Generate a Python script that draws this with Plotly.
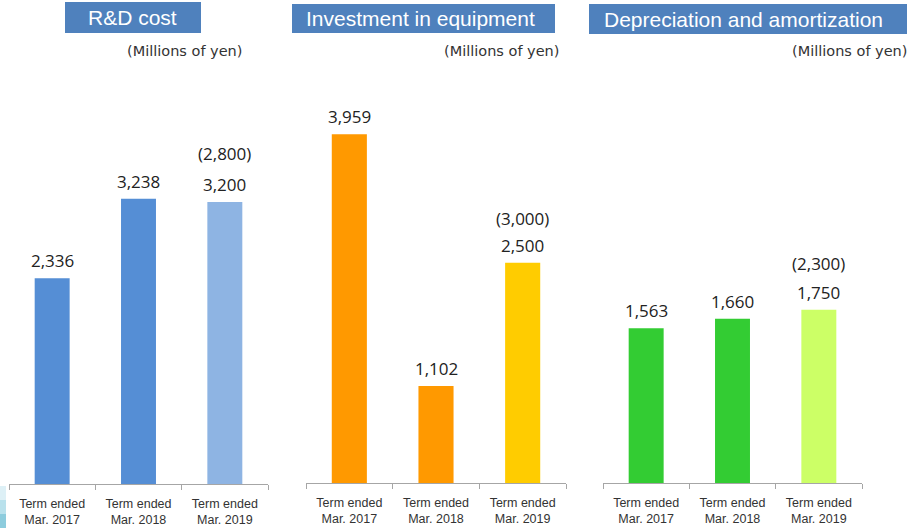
import plotly.graph_objects as go

# ---------------- data ----------------
categories = ["Term ended<br>Mar. 2017", "Term ended<br>Mar. 2018", "Term ended<br>Mar. 2019"]

rd_cost = [2336, 3238, 3200]
rd_forecast = 2800

capex = [3959, 1102, 2500]
capex_forecast = 3000

depreciation = [1563, 1660, 1750]
depreciation_forecast = 2300

titles = ["R&D cost", "Investment in equipment", "Depreciation and amortization"]
unit_label = "(Millions of yen)"

# ---------------- layout helpers ----------------
W, H = 913, 528


def fx(p):
    return p / W


def fy(p):
    return 1 - p / H


panels = [
    dict(values=rd_cost, forecast=rd_forecast, colors=["#558ED5", "#558ED5", "#8EB4E3"],
         x0=9, x1=268, base=484, scale=0.0881, fgap=31,
         box=(65, 2, 201, 33), title_x=132, unit_x=244),
    dict(values=capex, forecast=capex_forecast, colors=["#FF9900", "#FF9900", "#FFCC00"],
         x0=306, x1=566, base=483, scale=0.0881, fgap=27,
         box=(292, 4, 555, 33), title_x=420, unit_x=561),
    dict(values=depreciation, forecast=depreciation_forecast, colors=["#33CC33", "#33CC33", "#CCFF66"],
         x0=603, x1=862, base=483, scale=0.0990, fgap=29,
         box=(589, 4, 907, 34), title_x=743, unit_x=909),
]

fig = go.Figure()
shapes = []
annotations = []
layout_axes = {}

for i, p in enumerate(panels):
    n = "" if i == 0 else str(i + 1)
    xa, ya = "x" + n, "y" + n
    fig.add_trace(go.Bar(
        x=categories, y=p["values"], marker=dict(color=p["colors"], line=dict(width=0)),
        xaxis=xa, yaxis=ya, showlegend=False, hoverinfo="skip",
    ))
    layout_axes["xaxis" + n] = dict(
        domain=[fx(p["x0"]), fx(p["x1"])], anchor=ya, type="category",
        showline=True, linecolor="#A6A6A6", linewidth=1,
        ticks="outside", tickson="boundaries", ticklen=5, tickcolor="#A6A6A6",
        tickangle=0, ticklabelstandoff=8,
        tickfont=dict(family="Liberation Sans", size=12.5, color="#333333"),
        showgrid=False, zeroline=False, fixedrange=True,
    )
    layout_axes["yaxis" + n] = dict(
        domain=[fy(p["base"]), 1], anchor=xa, range=[0, p["base"] / p["scale"]],
        visible=False, fixedrange=True,
    )
    # value labels
    for c, v in zip(categories, p["values"]):
        annotations.append(dict(
            xref=xa, yref=ya, x=c, y=v, text=f"{v:,}", showarrow=False,
            yanchor="middle", yshift=17.5,
            font=dict(family="Open Sans", size=17, color="#222222"),
        ))
    annotations.append(dict(
        xref=xa, yref=ya, x=categories[-1], y=p["values"][-1], text=f"({p['forecast']:,})",
        showarrow=False, yanchor="middle", yshift=17.5 + p["fgap"],
        font=dict(family="Open Sans", size=17, color="#222222"),
    ))
    # title box
    bx0, by0, bx1, by1 = p["box"]
    shapes.append(dict(type="rect", xref="paper", yref="paper",
                       x0=fx(bx0), x1=fx(bx1), y0=fy(by1), y1=fy(by0),
                       fillcolor="#4F81BD", line=dict(width=0), layer="below"))
    annotations.append(dict(
        xref="paper", yref="paper", x=fx(p["title_x"]), y=fy((by0 + by1) / 2),
        text=titles[i], showarrow=False, xanchor="center", yanchor="middle",
        font=dict(family="Liberation Sans", size=21, color="white"),
    ))
    annotations.append(dict(
        xref="paper", yref="paper", x=fx(p["unit_x"]), y=fy(51),
        text=unit_label, showarrow=False, xanchor="right", yanchor="middle",
        font=dict(family="DejaVu Sans", size=14.5, color="#333333"),
    ))

# decorative light-blue strip at bottom-left
for c, a, b in [("#DDF0F6", 486, 500), ("#B9E1EC", 500, 514), ("#8DCCDD", 514, 528)]:
    shapes.append(dict(type="rect", xref="paper", yref="paper",
                       x0=0, x1=fx(6), y0=fy(b), y1=fy(a),
                       fillcolor=c, line=dict(width=0), layer="below"))

fig.update_layout(
    width=W, height=H, margin=dict(l=0, r=0, t=0, b=0),
    paper_bgcolor="white", plot_bgcolor="rgba(0,0,0,0)",
    bargap=0.595, shapes=shapes, annotations=annotations,
    **layout_axes,
)

fig.write_html("out.html")
